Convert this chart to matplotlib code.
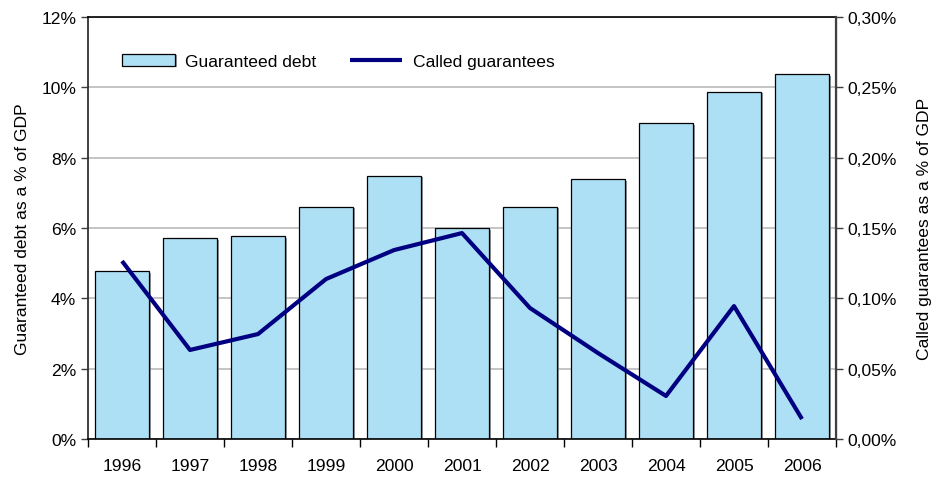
import matplotlib
matplotlib.use("Agg")
import matplotlib.pyplot as plt
import matplotlib.patheffects as pe
from matplotlib.ticker import FuncFormatter, FixedLocator
import numpy as np

years = ["1996", "1997", "1998", "1999", "2000", "2001", "2002", "2003", "2004", "2005", "2006"]
guaranteed_debt = [4.77, 5.71, 5.76, 6.60, 7.48, 5.99, 6.60, 7.39, 8.98, 9.88, 10.37]
called_guarantees = [0.1265, 0.0633, 0.0746, 0.1137, 0.1343, 0.1464, 0.0931, 0.0611, 0.0306, 0.0945, 0.0142]

plt.rcParams['font.family'] = ['Liberation Sans', 'DejaVu Sans']
FS = 12.6

fig = plt.figure(figsize=(9.32, 4.81), dpi=100)
ax = fig.add_axes([88 / 932, 41 / 481, (836 - 88) / 932, (440 - 18) / 481])
ax2 = ax.twinx()

x = np.arange(len(years))
bars = ax.bar(x, guaranteed_debt, width=0.78, color="#ADDFF5", edgecolor="black",
              linewidth=0.9, zorder=2, label="Guaranteed debt")
for b in bars:
    b.set_path_effects([pe.SimplePatchShadow(offset=(1.5, -1), shadow_rgbFace="#808080", alpha=0.8),
                        pe.Normal()])

line, = ax2.plot(x, called_guarantees, color="#000080", linewidth=3, zorder=3,
                 label="Called guarantees", solid_capstyle="butt")

ax.set_xlim(-0.5, len(years) - 0.5)
ax.set_ylim(0, 12)
ax2.set_ylim(0, 0.30)

ax.set_yticks(np.arange(0, 13, 2))
ax.yaxis.set_major_formatter(FuncFormatter(lambda v, p: f"{v:.0f}%"))
ax2.set_yticks(np.arange(0, 0.31, 0.05))
ax2.yaxis.set_major_formatter(FuncFormatter(lambda v, p: f"{v:.2f}%".replace(".", ",")))

ax.yaxis.grid(True, color="#BFBFBF", linewidth=1.3, zorder=0)
ax.set_axisbelow(True)

ax.set_xticks(x)
ax.set_xticklabels(years)
ax.tick_params(axis="x", which="major", length=0, labelsize=FS, pad=14)
ax.xaxis.set_minor_locator(FixedLocator(np.arange(-0.5, len(years), 1.0)))
ax.tick_params(axis="x", which="minor", length=6, width=1, color="black", direction="out")

ax.tick_params(axis="y", length=5, width=1, labelsize=FS, color="#404040")
ax2.tick_params(axis="y", length=5, width=1, labelsize=FS, color="#404040")

for s in ["top", "bottom"]:
    ax.spines[s].set_color("black")
    ax.spines[s].set_linewidth(1.2)
ax.spines["left"].set_color("#303030")
ax.spines["left"].set_linewidth(1.3)
ax2.spines["right"].set_color("#404040")
ax2.spines["right"].set_linewidth(1.6)
for s in ["top", "bottom", "left"]:
    ax2.spines[s].set_visible(False)

ax.set_ylabel("Guaranteed debt as a % of GDP", fontsize=FS, labelpad=8)
ax2.set_ylabel("Called guarantees as a % of GDP", fontsize=FS, labelpad=14)

ax.set_zorder(1)
ax2.set_zorder(2)
ax2.patch.set_visible(False)

ax2.legend([bars, line], ["Guaranteed debt", "Called guarantees"], loc="upper left",
           bbox_to_anchor=(0.025, 0.95), ncol=2, frameon=False, fontsize=FS,
           handlelength=3.0, handleheight=0.65, columnspacing=1.9, handletextpad=0.6)

fig.savefig("out.png", dpi=100)
